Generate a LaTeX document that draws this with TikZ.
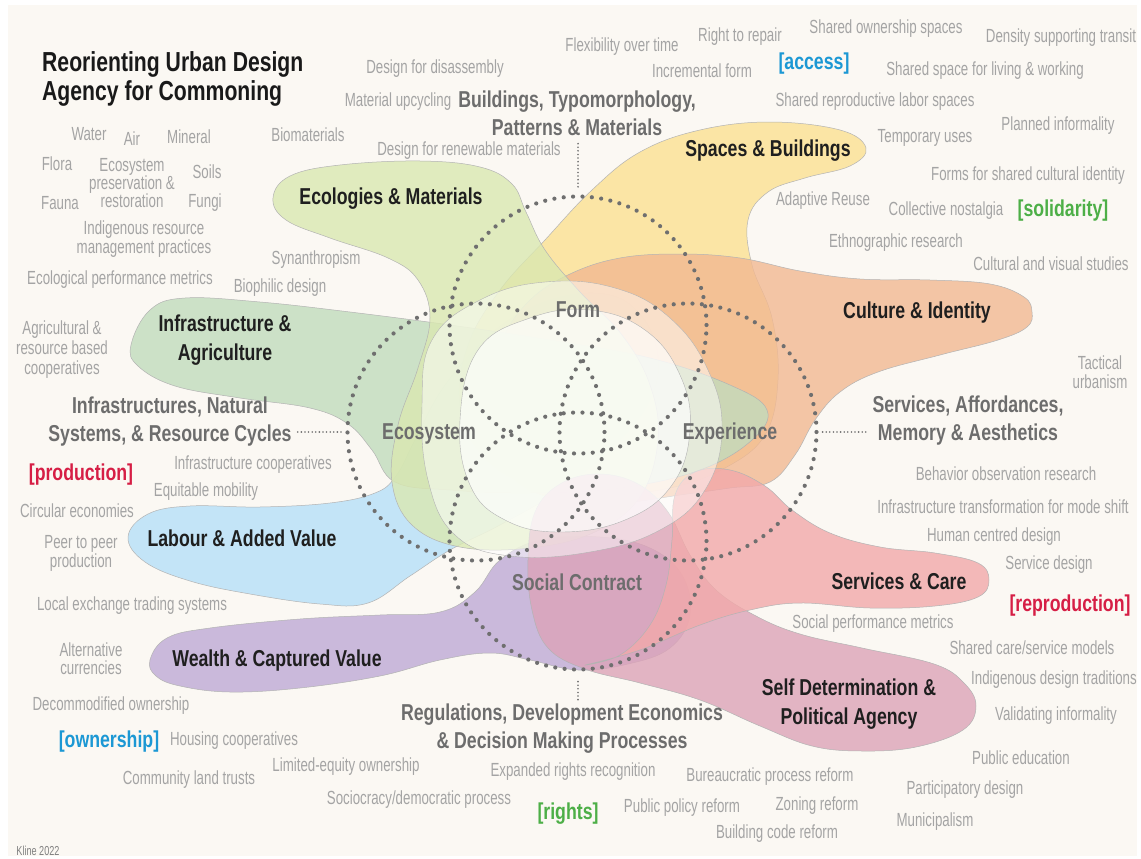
\documentclass[tikz,border=0pt]{standalone}
\usepackage{fontspec}
\newfontfamily\flt[FakeStretch=0.7]{Liberation Sans}
\newfontfamily\fbd[FakeStretch=0.77]{Liberation Sans Bold}
\definecolor{bgcream}{HTML}{FBF8F3}
\definecolor{txtgray}{HTML}{A4A4A4}
\definecolor{boldgray}{HTML}{6D6D6D}
\definecolor{ringgray}{HTML}{6F6F6F}
\definecolor{outl}{HTML}{B3B3B3}
\definecolor{kblue}{HTML}{1C98D4}
\definecolor{kgreen}{HTML}{4DAF47}
\definecolor{kred}{HTML}{D61E45}
\definecolor{cYel}{HTML}{FCE192}
\definecolor{cOra}{HTML}{F2B992}
\definecolor{cEco}{HTML}{DAE8B1}
\definecolor{cInf}{HTML}{C1DCBD}
\definecolor{cLab}{HTML}{B5E0F8}
\definecolor{cWea}{HTML}{BEAAD6}
\definecolor{cSel}{HTML}{DCA3B8}
\definecolor{cSer}{HTML}{F2A9AA}
\tikzset{
  gt/.style={text=txtgray, font=\flt\fontsize{19}{19}\selectfont, inner sep=0pt, align=center, yshift=-2pt},
  bl/.style={text=black!88, font=\fbd\fontsize{23}{29}\selectfont, inner sep=0pt, align=center, yshift=-2pt},
  bg/.style={text=boldgray, font=\fbd\fontsize{23}{28}\selectfont, inner sep=0pt, align=center, yshift=-2pt},
  kw/.style={font=\fbd\fontsize{23}{26}\selectfont, inner sep=0pt, yshift=-2pt},
  blob/.style={draw=outl, line width=0.5pt, fill opacity=0.8},
  veil/.style={fill=white, draw=outl, line width=0.4pt},
  ring/.style={circle, minimum size=257pt, inner sep=0pt, draw=ringgray, line width=4.2pt, dash pattern=on 0pt off 9.4pt, line cap=round},
  link/.style={draw=ringgray, line width=1.8pt, dash pattern=on 0pt off 3.6pt, line cap=round},
}
\begin{document}
\begin{tikzpicture}[x=1pt,y=-1pt]
\useasboundingbox (0,0) rectangle (1141,859);
\fill[white] (0,0) rectangle (1141,859);
\fill[bgcream] (8,5) rectangle (1137,856);

% blobs
\filldraw[blob, fill=cLab] plot[smooth cycle, tension=0.65] coordinates {(128,537) (148,514) (190,506) (260,507) (330,503) (375,493) (396,476) (415,440) (445,385) (495,330) (550,300) (605,294) (640,314) (658,355) (650,400) (615,445) (560,490) (500,525) (450,550) (410,576) (368,603) (320,604) (250,594) (190,581) (145,562)};
\filldraw[blob, fill=cWea] plot[smooth cycle, tension=0.65] coordinates {(150,660) (167,638) (210,628) (300,619) (380,615) (440,612) (475,592) (500,560) (540,540) (600,537) (650,548) (682,575) (690,615) (670,648) (628,664) (578,670) (530,660) (490,653) (440,660) (380,676) (300,688) (230,692) (180,686) (156,676)};
\filldraw[blob, fill=cYel] plot[smooth cycle, tension=0.65] coordinates {(866,148) (850,166) (805,178) (768,192) (748,220) (752,265) (772,318) (778,380) (765,435) (725,468) (670,488) (600,495) (530,485) (482,455) (460,405) (468,345) (500,290) (545,240) (592,190) (640,152) (700,130) (770,122) (840,130)};
\filldraw[blob, fill=cOra] plot[smooth cycle, tension=0.65] coordinates {(1032,312) (1024,297) (990,284) (930,280) (860,279) (800,271) (740,258) (680,254) (620,258) (570,274) (530,300) (502,340) (490,390) (494,440) (515,480) (560,500) (620,503) (680,495) (730,488) (770,482) (795,455) (815,420) (840,392) (878,372) (940,355) (998,340) (1027,327)};
\filldraw[blob, fill=cInf] plot[smooth cycle, tension=0.65] coordinates {(131,345) (150,310) (185,298) (260,302) (350,312) (450,325) (550,340) (650,358) (730,385) (767,410) (752,440) (700,470) (620,488) (530,493) (450,490) (395,482) (372,450) (348,424) (310,408) (240,398) (175,386) (138,366)};
\filldraw[blob, fill=cEco] plot[smooth cycle, tension=0.65] coordinates {(273,198) (290,176) (340,165) (420,161) (480,167) (512,184) (526,212) (545,250) (580,292) (622,335) (650,385) (658,440) (640,497) (595,532) (530,548) (460,547) (412,525) (392,482) (398,425) (418,368) (430,318) (418,280) (388,258) (330,238) (286,220)};
\filldraw[blob, fill=cSel] plot[smooth cycle, tension=0.65] coordinates {(976,706) (964,683) (934,664) (862,648) (800,634) (756,616) (716,590) (690,555) (668,512) (638,484) (598,474) (560,484) (535,512) (528,560) (532,610) (548,648) (585,669) (640,683) (700,700) (760,726) (812,746) (862,751) (916,747) (963,730)};
\filldraw[blob, fill=cSer] plot[smooth cycle, tension=0.65] coordinates {(989,580) (978,563) (935,553) (880,547) (830,533) (792,510) (765,486) (730,470) (695,472) (675,495) (672,540) (666,585) (650,625) (620,655) (585,665) (640,650) (700,625) (750,610) (800,603) (870,608) (935,606) (978,597)};

% pale centre
\filldraw[veil, fill opacity=0.5] plot[smooth cycle, tension=0.7] coordinates {(432,340) (480,300) (545,282) (615,288) (670,318) (708,370) (722,430) (705,490) (660,530) (590,552) (510,556) (455,535) (428,480) (422,405)};
\filldraw[veil, fill opacity=0.65] plot[smooth cycle, tension=0.7] coordinates {(478,350) (530,318) (590,310) (645,330) (680,375) (690,430) (672,485) (625,520) (560,532) (505,520) (470,485) (460,420)};

% dotted rings
\node[ring] (form) at (578,325) {};
\node[ring] (eco) at (476,432) {};
\node[ring] (exp) at (688,432) {};
\node[ring] (soc) at (578,541) {};

% title
\node[font=\fbd\fontsize{27.5}{29}\selectfont, text=black!90, align=left, inner sep=0pt, anchor=west, yshift=-2pt] (title) at (42,77) {Reorienting Urban Design\\Agency for Commoning};

% gray items
\node[gt] (flex) at (622,45) {Flexibility over time};
\node[gt] (repair) at (740,35) {Right to repair};
\node[gt] (shown) at (886,27) {Shared ownership spaces};
\node[gt] (dens) at (1061,36) {Density supporting transit};
\node[gt] (incr) at (702,69) {Incremental form};
\node[gt] (sslw) at (985,69) {Shared space for living \& working};
\node[gt] (disas) at (435,67) {Design for disassembly};
\node[gt] (upcyc) at (398,100) {Material upcycling};
\node[gt] (srls) at (875,100) {Shared reproductive labor spaces};
\node[gt] (planinf) at (1058,124) {Planned informality};
\node[gt] (temp) at (925,136) {Temporary uses};
\node[gt] (biomat) at (308,133) {Biomaterials};
\node[gt] (renew) at (469,149) {Design for renewable materials};
\node[gt] (forms) at (1028,174) {Forms for shared cultural identity};
\node[gt] (water) at (89,132) {Water};
\node[gt] (air) at (132,137) {Air};
\node[gt] (mineral) at (189,135) {Mineral};
\node[gt] (flora) at (57,162) {Flora};
\node[gt, font=\flt\fontsize{19}{18}\selectfont] (ecopres) at (132,181) {Ecosystem\\preservation \&\\restoration};
\node[gt] (soils) at (207,170) {Soils};
\node[gt] (fauna) at (60,201) {Fauna};
\node[gt] (fungi) at (205,201) {Fungi};
\node[gt, font=\flt\fontsize{19}{18.5}\selectfont] (indig) at (144,237) {Indigenous resource\\management practices};
\node[gt] (adapt) at (823,199) {Adaptive Reuse};
\node[gt] (nost) at (946,209) {Collective nostalgia};
\node[gt] (ethno) at (896,241) {Ethnographic research};
\node[gt] (synan) at (316,258) {Synanthropism};
\node[gt] (cvs) at (1051,262) {Cultural and visual studies};
\node[gt] (ecoperf) at (120,278) {Ecological performance metrics};
\node[gt] (biophil) at (280,286) {Biophilic design};
\node[gt, font=\flt\fontsize{19}{20}\selectfont] (agri) at (62,348) {Agricultural \&\\resource based\\cooperatives};
\node[gt] (tact) at (1100,370) {Tactical\\urbanism};
\node[gt] (infcoop) at (253,463) {Infrastructure cooperatives};
\node[gt] (equit) at (206,490) {Equitable mobility};
\node[gt] (behav) at (1006,472) {Behavior observation research};
\node[gt] (circ) at (77,509) {Circular economies};
\node[gt] (itmf) at (1003,505) {Infrastructure transformation for mode shift};
\node[gt] (p2p) at (81,551) {Peer to peer\\production};
\node[gt] (hcd) at (994,535) {Human centred design};
\node[gt] (servd) at (1049,563) {Service design};
\node[gt] (lets) at (132,604) {Local exchange trading systems};
\node[gt] (spm) at (873,622) {Social performance metrics};
\node[gt] (sharedcare) at (1032,646) {Shared care/service models};
\node[gt, font=\flt\fontsize{19}{18}\selectfont] (altcur) at (91,657) {Alternative\\currencies};
\node[gt] (idt) at (1054,678) {Indigenous design traditions};
\node[gt] (decom) at (111,704) {Decommodified ownership};
\node[gt] (valinf) at (1056,714) {Validating informality};
\node[gt] (housing) at (234,739) {Housing cooperatives};
\node[gt] (pubed) at (1021,756) {Public education};
\node[gt] (clt) at (189,778) {Community land trusts};
\node[gt] (leo) at (346,765) {Limited-equity ownership};
\node[gt] (err) at (573,770) {Expanded rights recognition};
\node[gt] (bpr) at (770,775) {Bureaucratic process reform};
\node[gt] (partic) at (965,788) {Participatory design};
\node[gt] (socio) at (419,798) {Sociocracy/democratic process};
\node[gt] (ppr) at (682,806) {Public policy reform};
\node[gt] (zoning) at (817,804) {Zoning reform};
\node[gt] (munic) at (935,820) {Municipalism};
\node[gt] (bcr) at (777,832) {Building code reform};
\node[gt, text=black!50, font=\flt\fontsize{13}{13}\selectfont] (kline) at (38,849) {Kline 2022};

% black labels
\node[bl] (lEco) at (391,197) {Ecologies \& Materials};
\node[bl] (lSpa) at (768,149) {Spaces \& Buildings};
\node[bl] (lCul) at (917,311) {Culture \& Identity};
\node[bl] (lInf) at (225,338) {Infrastructure \&\\Agriculture};
\node[bl] (lLab) at (242,536) {Labour \& Added Value};
\node[bl] (lSer) at (899,579) {Services \& Care};
\node[bl] (lWea) at (277,659) {Wealth \& Captured Value};
\node[bl] (lSel) at (849,702) {Self Determination \&\\Political Agency};

% gray bold labels
\node[bg] (bldg) at (577,111) {Buildings, Typomorphology,\\Patterns \& Materials};
\node[bg] (infra) at (170,420) {Infrastructures, Natural\\Systems, \& Resource Cycles};
\node[bg] (servaff) at (968,419) {Services, Affordances,\\Memory \& Aesthetics};
\node[bg] (reg) at (562,727) {Regulations, Development Economics\\\& Decision Making Processes};
\node[bg] (tForm) at (578,308) {Form};
\node[bg] (tEco) at (429,432) {Ecosystem};
\node[bg] (tExp) at (730,432) {Experience};
\node[bg] (tSoc) at (577,580) {Social Contract};

% keywords
\node[kw, text=kblue] (kAcc) at (814,62) {[access]};
\node[kw, text=kgreen] (kSol) at (1063,209) {[solidarity]};
\node[kw, text=kred] (kProd) at (81,473) {[production]};
\node[kw, text=kred] (kRep) at (1070,604) {[reproduction]};
\node[kw, text=kblue] (kOwn) at (109,740) {[ownership]};
\node[kw, text=kgreen] (kRig) at (568,812) {[rights]};

% dotted connectors
\draw[link] ([yshift=-8pt]bldg.south -| form.north) -- ([yshift=5pt]form.north);
\draw[link] ([xshift=6pt]infra.east |- eco.west) -- ([xshift=-4pt]eco.west);
\draw[link] ([xshift=4pt]exp.east) -- ([xshift=-6pt]servaff.west |- exp.east);
\draw[link] ([yshift=-10pt]soc.south) -- ([yshift=4pt]soc.south |- reg.north);
\end{tikzpicture}
\end{document}
